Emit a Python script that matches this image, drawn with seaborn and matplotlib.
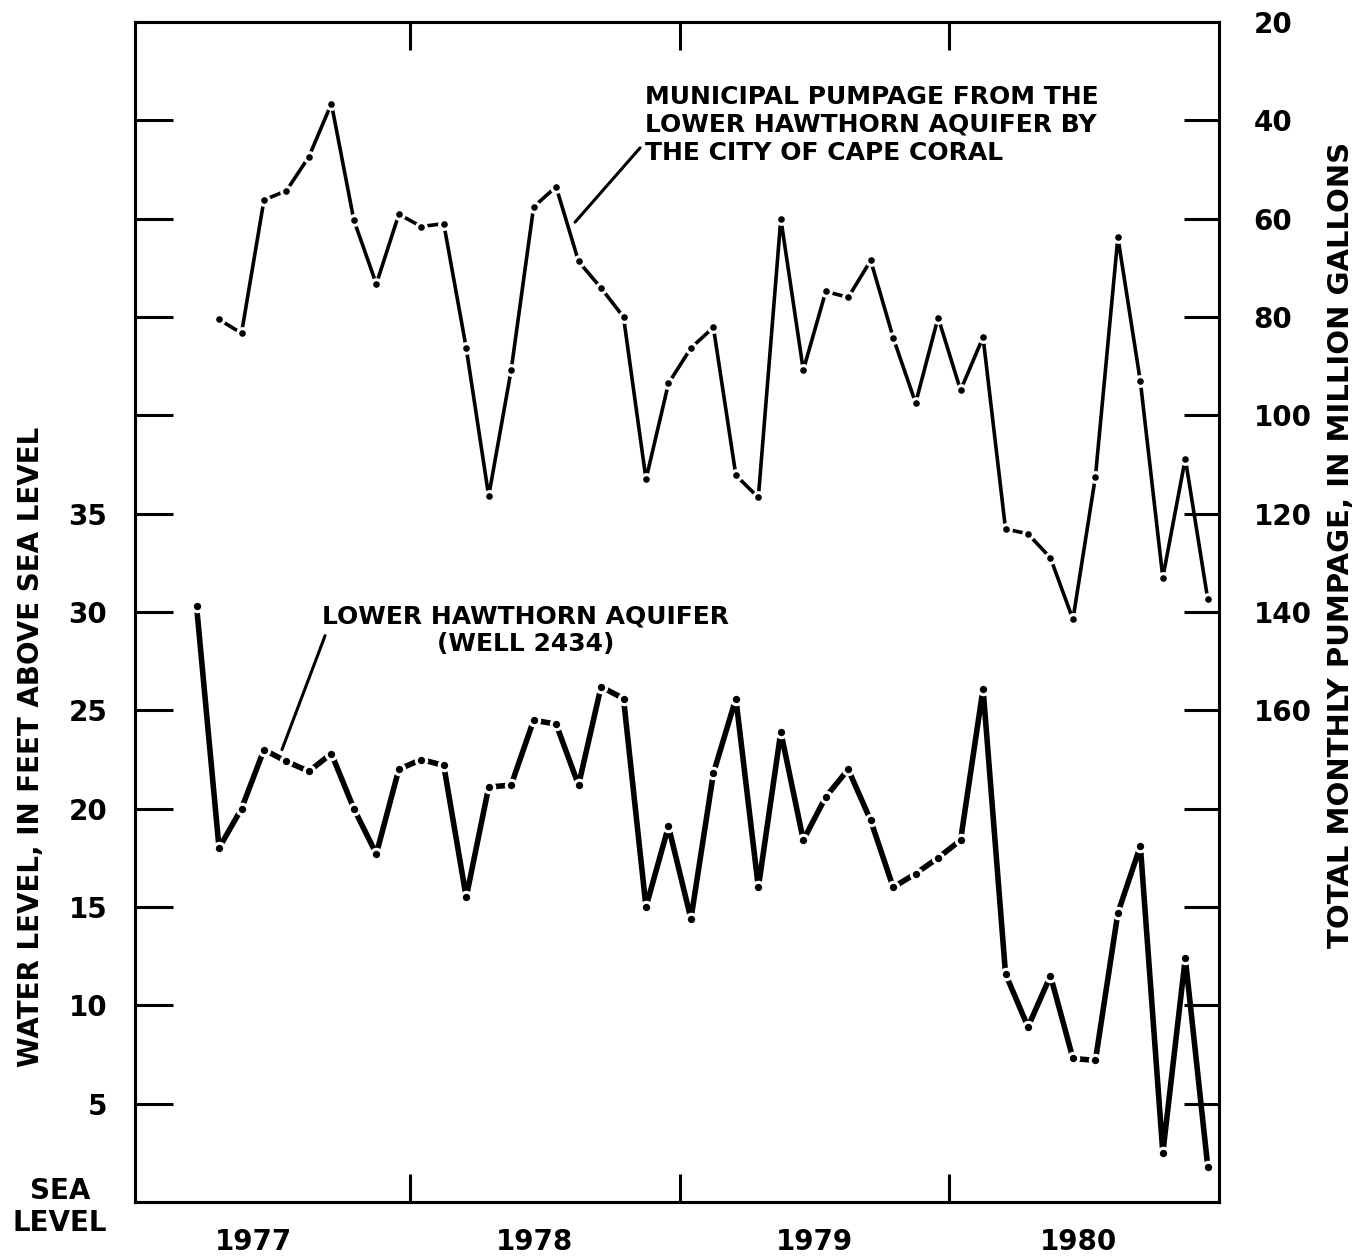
import numpy as np
import pandas as pd
import matplotlib
matplotlib.use("Agg")
import matplotlib.pyplot as plt
import seaborn as sns

# monthly values (mid-month points)
water_months = pd.date_range("1977-03-01", "1980-12-01", freq="MS")
water_level = [30.3, 18.0, 20.0, 23.0, 22.4, 21.9, 22.8, 20.0, 17.7, 22.0,
               22.5, 22.2, 15.5, 21.1, 21.2, 24.5, 24.3, 21.2, 26.2, 25.6, 15.0, 19.1,
               14.4, 21.8, 25.6, 16.0, 23.9, 18.4, 20.6, 22.0, 19.4, 16.0, 16.7, 17.5,
               18.4, 26.1, 11.6, 8.9, 11.5, 7.3, 7.2, 14.7, 18.1, 2.5, 12.4, 1.8]

pump_months = pd.date_range("1977-04-01", "1980-12-01", freq="MS")
pumpage = [80.5, 83.3, 56.2, 54.3, 47.4, 36.6, 60.3, 73.3, 59.1,
           61.6, 61.0, 86.3, 116.4, 90.8, 57.6, 53.5, 68.7, 74.1, 80.0, 113.0, 93.5,
           86.3, 82.1, 112.2, 116.7, 60.0, 90.8, 74.8, 76.0, 68.5, 84.2, 97.5, 80.1,
           94.9, 84.1, 123.1, 124.1, 129.0, 141.5, 112.5, 63.8, 93.1, 133.0, 108.8, 137.4]

years = [1977, 1978, 1979, 1980]
left_ticks = list(range(0, 60, 5))
left_labels = ["SEA\nLEVEL", "5", "10", "15", "20", "25", "30", "35", "", "", "", ""]
right_ticks = list(range(20, 260, 20))
right_labels = ["20", "40", "60", "80", "100", "120", "140", "160", "", "", "", ""]


def dec_year(m):
    return m.year + (m.month - 0.5) / 12.0


df_w = pd.DataFrame({"t": [dec_year(m) for m in water_months], "level": water_level})
df_p = pd.DataFrame({"t": [dec_year(m) for m in pump_months], "pump": pumpage})

sns.set_theme(style="ticks")
plt.rcParams["font.family"] = ["DejaVu Sans"]
plt.rcParams["font.weight"] = "bold"
plt.rcParams["axes.labelweight"] = "bold"
for k in ("text.color", "axes.labelcolor", "xtick.color", "ytick.color", "axes.edgecolor"):
    plt.rcParams[k] = "black"

fig = plt.figure(figsize=(13.54, 12.58), dpi=100)
ax = fig.add_axes([0.0997, 0.0445, 0.8006, 0.938])
ax2 = ax.twinx()

sns.lineplot(data=df_w, x="t", y="level", ax=ax, color="black", linewidth=4.0,
             marker="o", markersize=7.5, markerfacecolor="black",
             markeredgecolor="white", markeredgewidth=2.2)
sns.lineplot(data=df_p, x="t", y="pump", ax=ax2, color="black", linewidth=2.6,
             marker="o", markersize=7, markerfacecolor="black",
             markeredgecolor="white", markeredgewidth=2.2)

ax.set_xlim(1976.98, 1981.0)
ax.set_ylim(0, 60)
ax2.set_ylim(260, 20)

# x axis: year boundaries as inward ticks, year names in between
ax.set_xticks([1978, 1979, 1980])
ax.set_xticklabels([])
ax.set_xticks([1977.42, 1978.46, 1979.5, 1980.48], minor=True)
ax.set_xticklabels([str(y) for y in years], minor=True)
ax.tick_params(axis="x", which="major", direction="in", length=20, width=2.2,
               top=True, bottom=True)
ax.tick_params(axis="x", which="minor", length=0, pad=19, labelsize=20)

ax.set_yticks(left_ticks)
ax.set_yticklabels(left_labels)
ax.tick_params(axis="y", direction="in", length=27, width=2.2, pad=20, labelsize=20)
for lab in ax.get_yticklabels():
    lab.set_multialignment("center")
ax.yaxis.get_major_ticks()[0].tick1line.set_visible(False)

ax2.set_yticks(right_ticks)
ax2.set_yticklabels(right_labels)
ax2.tick_params(axis="y", direction="in", length=25, width=2.2, pad=25, labelsize=20)
ax2.yaxis.get_major_ticks()[0].tick2line.set_visible(False)

for a in (ax, ax2):
    for s in a.spines.values():
        s.set_linewidth(2.2)
        s.set_color("black")

ax.set_xlabel("")
ax.set_ylabel("WATER LEVEL, IN FEET ABOVE SEA LEVEL", fontsize=20)
ax.yaxis.set_label_coords(-0.083, 0.386)
ax2.set_ylabel("TOTAL MONTHLY PUMPAGE, IN MILLION GALLONS", fontsize=21, rotation=90)
ax2.yaxis.set_label_coords(1.10, 0.557)

# labels with leader lines
ax2.text(1978.872, 32.8, "MUNICIPAL PUMPAGE FROM THE\nLOWER HAWTHORN AQUIFER BY\nTHE CITY OF CAPE CORAL",
         fontsize=18, ha="left", va="top", linespacing=1.2)
ax2.annotate("", xy=(1978.612, 60.7), xytext=(1978.853, 45.6),
             arrowprops=dict(arrowstyle="-", lw=2.2, color="black", shrinkA=0, shrinkB=0))

ax.text(1978.43, 30.4, "LOWER HAWTHORN AQUIFER\n(WELL 2434)", fontsize=18,
        ha="center", va="top", linespacing=1.2)
ax.annotate("", xy=(1977.525, 23.0), xytext=(1977.685, 28.8),
            arrowprops=dict(arrowstyle="-", lw=2.2, color="black", shrinkA=0, shrinkB=0))

fig.savefig("out.png", dpi=100)
